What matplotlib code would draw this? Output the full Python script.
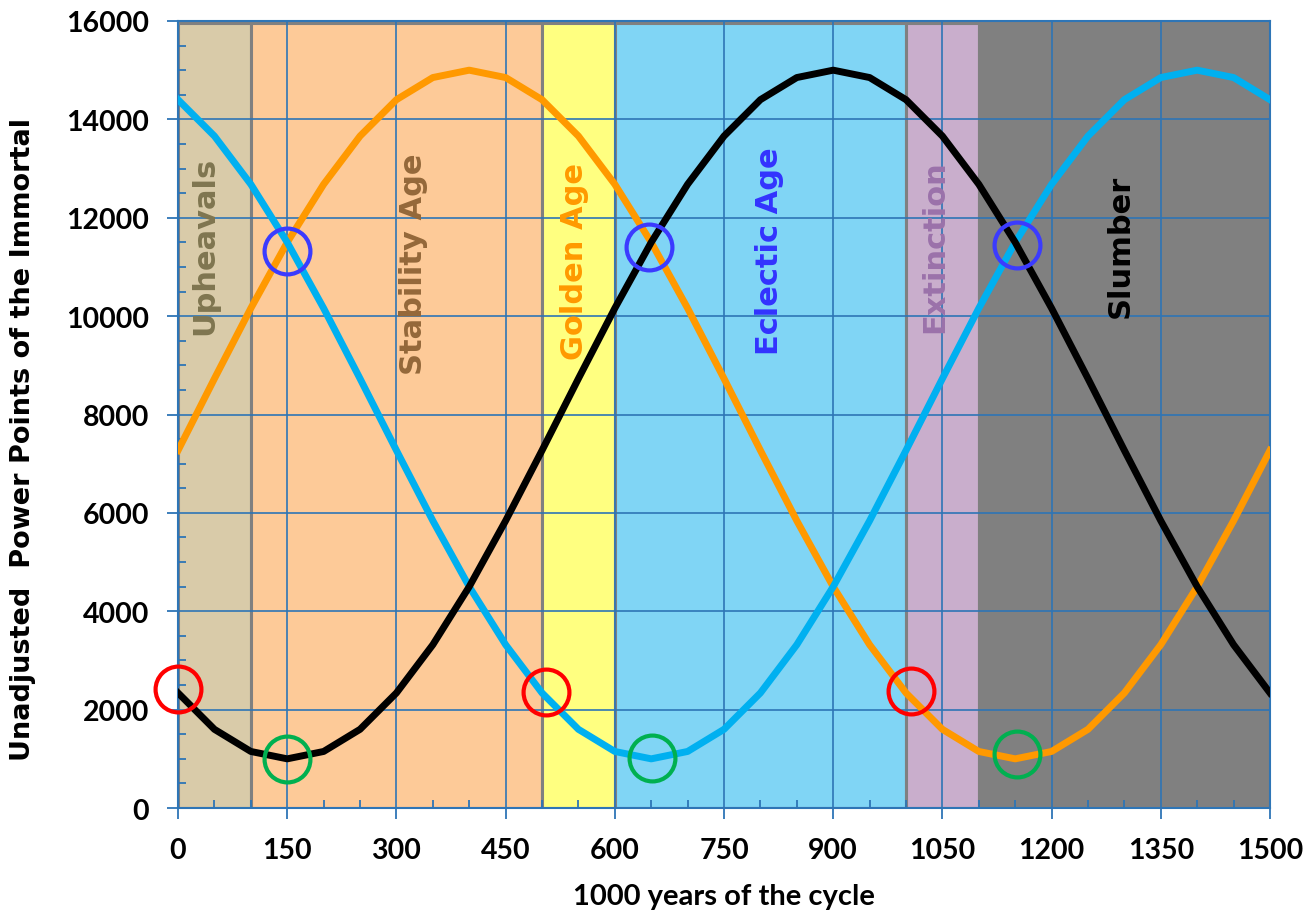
import numpy as np
import matplotlib.pyplot as plt
from matplotlib.ticker import MultipleLocator

plt.rcParams['font.family'] = ['Lato', 'DejaVu Sans']

# years of the cycle, sampled every 50
years = list(range(0, 1501, 50))

orange_pp = [7270, 8730, 10160, 11500, 12680, 13660, 14400, 14850, 15000, 14850,
             14400, 13660, 12680, 11500, 10160, 8730, 7270, 5840, 4500, 3320,
             2340, 1600, 1150, 1000, 1150, 1600, 2340, 3320, 4500, 5840, 7270]
black_pp = [2340, 1600, 1150, 1000, 1150, 1600, 2340, 3320, 4500, 5840,
            7270, 8730, 10160, 11500, 12680, 13660, 14400, 14850, 15000, 14850,
            14400, 13660, 12680, 11500, 10160, 8730, 7270, 5840, 4500, 3320, 2340]
blue_pp = [14400, 13660, 12680, 11500, 10160, 8730, 7270, 5840, 4500, 3320,
           2340, 1600, 1150, 1000, 1150, 1600, 2340, 3320, 4500, 5840,
           7270, 8730, 10160, 11500, 12680, 13660, 14400, 14850, 15000, 14850, 14400]

# ages (background bands)
age_names = ['Upheavals', 'Stability Age', 'Golden Age', 'Eclectic Age', 'Extinction', 'Slumber']
age_start = [0, 100, 500, 600, 1000, 1100]
age_end = [100, 500, 600, 1000, 1100, 1500]
age_fill = ['#d9cba9', '#fdca98', '#ffff80', '#80d5f5', '#c9aecc', '#808080']
age_txt = ['#7f7650', '#94683a', '#ff9900', '#3333ff', '#9b72aa', 'black']
label_x = [37, 323, 545, 813, 1040, 1294]
label_y = [9640, 8820, 9130, 9230, 9680, 9980]

# highlighted points
red_x, red_y = [0, 505, 1007], [2420, 2360, 2380]
green_x, green_y = [150, 651, 1152], [1000, 1020, 1100]
cross_x, cross_y = [150, 647, 1152], [11320, 11400, 11450]

grid_c = '#2e75b6'

fig = plt.figure(figsize=(13.14, 9.12), dpi=100)
ax = fig.add_axes([0.1355, 0.1129, 0.831, 0.863])

widths = [e - s for s, e in zip(age_start, age_end)]
ax.bar(age_start, [15950] * 6, width=widths, align='edge', color=age_fill,
       edgecolor='#808080', linewidth=2.2, zorder=1)

ax.plot(years, orange_pp, color='#ff9900', lw=5, zorder=3, solid_joinstyle='round')
ax.plot(years, blue_pp, color='#00b0f0', lw=5, zorder=3, solid_joinstyle='round')
ax.plot(years, black_pp, color='black', lw=5, zorder=3, solid_joinstyle='round')

mk = dict(marker='o', ls='none', ms=33, mfc='none', mew=3, zorder=4, clip_on=False)
ax.plot(red_x, red_y, mec='#ff0000', **mk)
ax.plot(green_x, green_y, mec='#00b050', **mk)
ax.plot(cross_x, cross_y, mec='#3b3bff', **mk)

for name, x, y, c in zip(age_names, label_x, label_y, age_txt):
    ax.text(x, y, name, rotation=90, ha='center', va='bottom', color=c,
            fontsize=22, fontweight='bold', family='DejaVu Sans', zorder=5)

ax.set_xlim(0, 1500)
ax.set_ylim(0, 16000)
ax.xaxis.set_major_locator(MultipleLocator(150))
ax.xaxis.set_minor_locator(MultipleLocator(50))
ax.yaxis.set_major_locator(MultipleLocator(2000))
ax.yaxis.set_minor_locator(MultipleLocator(500))
ax.set_axisbelow('line')
ax.grid(True, which='major', color=grid_c, lw=1.2)

ax.tick_params(which='major', direction='out', length=8, width=1.3, color=grid_c,
               labelsize=20.5, pad=13)
ax.tick_params(which='minor', direction='in', length=6, width=1.3, color=grid_c)
for lab in ax.get_xticklabels() + ax.get_yticklabels():
    lab.set_fontweight('bold')
for s in ax.spines.values():
    s.set_color(grid_c)
    s.set_linewidth(1.5)

ax.set_xlabel('1000 years of the cycle', fontsize=21, fontweight='bold', labelpad=14)
ax.set_ylabel('Unadjusted  Power Points of the Immortal', fontsize=19.5,
              fontweight='bold', family='DejaVu Sans')
ax.yaxis.set_label_coords(-0.130, 0.469)

fig.savefig('out.png', dpi=100)
